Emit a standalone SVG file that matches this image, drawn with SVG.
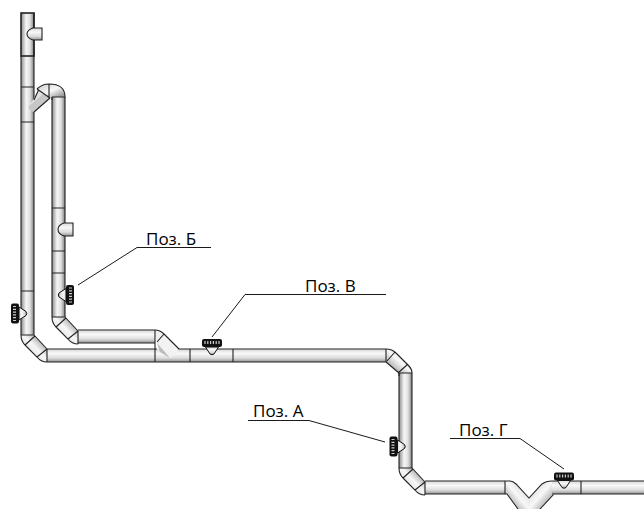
<svg xmlns="http://www.w3.org/2000/svg" width="644" height="509" viewBox="0 0 644 509">
<style>
.t{font-family:"Open Sans","Noto Sans",sans-serif;font-size:17px;fill:#000}
.l{stroke:#1a1a1a;stroke-width:1;fill:none}
.v{fill:url(#gv)}
.h{fill:url(#gh)}
.a{fill:url(#ga)}
.b{fill:url(#gb)}
.c{fill:url(#gc)}
.e{stroke:#222;stroke-width:1.100;fill:none}
.f{stroke:#222;stroke-width:1.100}
</style>
<defs>
<linearGradient id="gv" x1="0" x2="1" y1="0" y2="0"><stop offset="0" stop-color="#8c8c8c"/><stop offset=".4" stop-color="#f7f7f7"/><stop offset=".7" stop-color="#dedede"/><stop offset="1" stop-color="#808080"/></linearGradient>
<linearGradient id="gh" x1="0" x2="0" y1="0" y2="1"><stop offset="0" stop-color="#d8d8d8"/><stop offset=".35" stop-color="#f8f8f8"/><stop offset=".7" stop-color="#dcdcdc"/><stop offset="1" stop-color="#929292"/></linearGradient>
<linearGradient id="ga" x1="1" x2="0" y1="0" y2="1"><stop offset=".15" stop-color="#999"/><stop offset=".45" stop-color="#f7f7f7"/><stop offset=".65" stop-color="#e6e6e6"/><stop offset=".9" stop-color="#909090"/></linearGradient>
<linearGradient id="gb" x1="0" x2="1" y1="0" y2="1"><stop offset=".2" stop-color="#dcdcdc"/><stop offset=".5" stop-color="#f8f8f8"/><stop offset=".85" stop-color="#a0a0a0"/></linearGradient>
<linearGradient id="gc" x1="1" x2="0" y1="0" y2="1"><stop offset=".2" stop-color="#dcdcdc"/><stop offset=".5" stop-color="#f8f8f8"/><stop offset=".85" stop-color="#a0a0a0"/></linearGradient>
<path id="elbow-fill" d="M0 0H13L26 14V27H22Q19 26 16 22L4 10Q0 6 0 0Z"/>
<g id="elbow">
<path d="M0 0Q0 6 4 10L16 22Q20 27 26 27M13 0L26 14M0 0H13M4 10L14 1M16 22L26 14M26 14V27" class="e"/>
</g>
<g id="valve">
<path d="M-6.500 4L-2 11Q0 12.500 2 11L6.500 4Z" class="h" stroke="#111"/>
<rect x="-10" y="-4" width="20" height="8" rx="2" fill="#111"/>
<path d="M-7 -2V1M-4.200 -2V1M-1.400 -2V1M1.400 -2V1M4.200 -2V1M7 -2V1" stroke="#ccc" stroke-width="1.200"/>
</g>
</defs>

<g id="pipe-main">
<rect class="v" x="21" y="13" width="13" height="322"/>
<use href="#elbow-fill" x="21" y="335" class="a"/>
<rect class="h" x="47" y="349" width="339" height="13"/>
<path class="c" d="M386 349Q392 349 396 353L408 365Q412 369 412 373H399L386 362Z"/>
<rect class="v" x="399" y="373" width="13" height="95"/>
<use href="#elbow-fill" x="399" y="468" class="a"/>
<rect class="h" x="425" y="481" width="80" height="13"/>
<path class="c" d="M505 481H510Q513 481 516 484L529 498V509H518L507 494H505Z"/>
<path class="b" d="M529 498L542 484Q546 481 552 481H553V495L540 509H529Z"/>
<rect class="h" x="552" y="481" width="92" height="13"/>
<path class="e" d="M21 56V335M34 13V100M34 112V335M47 362H386M399 373V468M412 373V468"/>
<path class="e" d="M47 349H157M178 349H386M425 494H505L507 494L518 509M540 509L553 495V494H644M425 481H505H510Q513 481 516 484L529 498L542 484Q546 481 552 481H644"/>
<rect x="21" y="13" width="13" height="43" fill="none" stroke="#222" stroke-width="1.600"/>
<path class="f" d="M21 87H34M21 122H34M21 291H34M155 343V362M190 349V362M233 349V362M386 349V362M399 373H412M505 481V494M581 481V494"/>
<path class="e" d="M386 349Q392 349 396 353L408 365Q412 369 412 373M386 362L399 373M387 361L395 352M398 373L408 364M399 373V376"/>
<use href="#elbow" x="21" y="335"/>
<use href="#elbow" x="399" y="468"/>
</g>

<g id="pipe-branch">
<rect class="v" x="52" y="97" width="13" height="220"/>
<use href="#elbow-fill" x="52" y="317" class="a"/>
<rect class="h" x="78" y="330" width="77" height="13"/>
<path d="M155 330Q160 330 164 334L179 349L172 356L157 343Z" fill="#efefef"/>
<path d="M157 343L164 334L172 343L178 349L176 354L170 358Z" fill="#f2f2f2"/>
<path d="M157 343L170 358L160 352Z" fill="#bbb"/>
<path class="e" d="M52 97V317M65 97V317M78 330H155Q160 330 164 334L179 349M78 343H155M157 342L164 334"/>
<path class="f" d="M52 208H65M52 251H65M52 273H65M155 330V343"/>
<use href="#elbow" x="52" y="317"/>
<path d="M34 112L50 98L39 89L33 100L29 105Q28 108 30 110Z" fill="#e2e2e2"/>
<path d="M34 112L50 98L44 93L29 106Q28 108 30 110Z" fill="#b5b5b5" opacity=".6"/>
<path class="e" d="M34 112L50 98M34 100L39 89"/>
<path d="M37 89Q42 84 49 84Q65 84 65 97H52Q51 98 50 98Z" fill="url(#gb)"/>
<path class="e" d="M37 89Q42 84 49 84Q65 84 65 97H52M37 89L50 98M49 84V98M52 97V100"/>
</g>

<g id="stub-top"><path d="M42 28H33Q27 30 27 34Q27 38 33 40H42Z" class="h" stroke="#222" stroke-width="1.100"/></g>
<g id="stub-mid"><path d="M73 223H64Q58 225 58 229.500Q58 234 64 236H73Z" class="h" stroke="#222" stroke-width="1.100"/></g>
<use id="valve-left" href="#valve" transform="translate(15 313.500) rotate(-90)"/>
<use id="valve-b" href="#valve" transform="translate(70 295) rotate(90)"/>
<use id="valve-v" href="#valve" transform="translate(212 343)"/>
<use id="valve-a" href="#valve" transform="translate(393.500 446.500) rotate(-90)"/>
<use id="valve-g" href="#valve" transform="translate(564 476.500)"/>

<g id="connectors">
<path class="l" d="M78 285L137 247.500H211"/>
<path class="l" d="M212 337L245 294.500H386"/>
<path class="l" d="M248 420.500H309L385 442"/>
<path class="l" d="M450 438.500H520L564 469"/>
</g>
<g id="labels">
<text class="t" x="146" y="245">Поз. Б</text>
<text class="t" x="305" y="291.500">Поз. В</text>
<text class="t" x="253" y="417">Поз. А</text>
<text class="t" x="459" y="435.500">Поз. Г</text>
</g>
</svg>
